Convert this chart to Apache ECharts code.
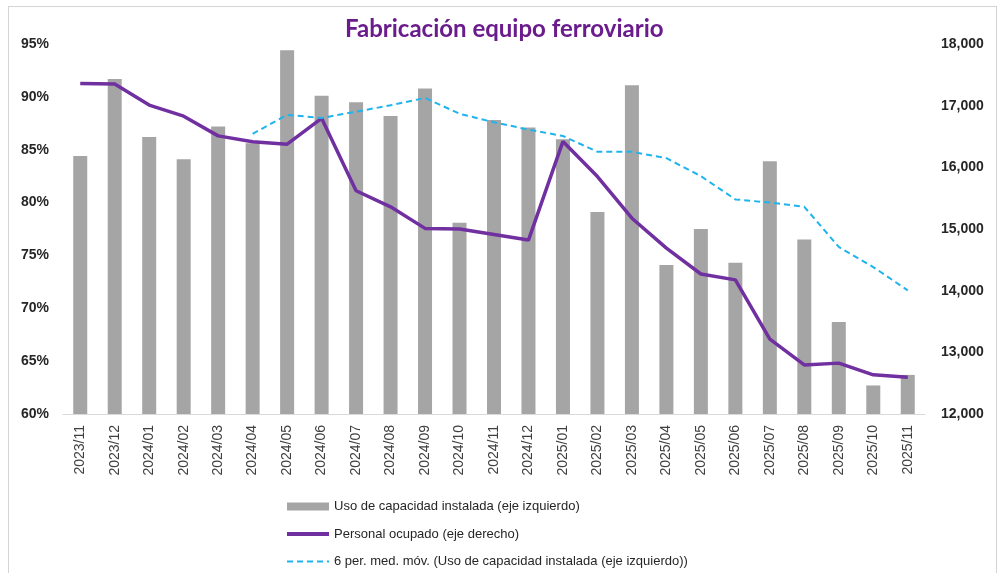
<!doctype html>
<html>
<head>
    <meta charset="utf-8">
    <title>Fabricación equipo ferroviario</title>
    <script type="text/javascript" src="https://cdn.jsdelivr.net/npm/echarts@6/dist/echarts.min.js"></script>
    <style>
        html, body { margin: 0; padding: 0; background: #fff; }
        #frame { position: absolute; left: 8px; top: 6px; width: 989px; height: 570px; border: 1.5px solid #d4d4d4; border-bottom: none; box-sizing: border-box; }
        #container { width: 999px; height: 573px; }
    </style>
</head>
<body>
<div id="frame"></div>
<div id="container"></div>
<script type="text/javascript">
    // meses
    var meses = ['2023/11', '2023/12', '2024/01', '2024/02', '2024/03', '2024/04', '2024/05', '2024/06',
        '2024/07', '2024/08', '2024/09', '2024/10', '2024/11', '2024/12', '2025/01', '2025/02', '2025/03',
        '2025/04', '2025/05', '2025/06', '2025/07', '2025/08', '2025/09', '2025/10', '2025/11'];

    // uso de capacidad instalada (%), eje izquierdo
    var usoCapacidad = [84.4, 91.7, 86.2, 84.1, 87.2, 85.6, 94.4, 90.1, 89.5, 88.2, 90.8, 78.1, 87.8,
        87.1, 86.0, 79.1, 91.1, 74.1, 77.5, 74.3, 83.9, 76.5, 68.7, 62.7, 63.7];

    // personal ocupado, eje derecho
    var personal = [17360, 17350, 17010, 16830, 16510, 16415, 16375, 16795, 15620, 15360, 15010, 15000,
        14910, 14820, 16420, 15850, 15175, 14690, 14270, 14175, 13215, 12795, 12825, 12635, 12595];

    // media movil 6 periodos (empieza en 2024/04)
    var mediaMovil = ['-', '-', '-', '-', '-', 86.5, 88.3, 88.0, 88.6, 89.2, 89.9, 88.4, 87.6,
        86.9, 86.3, 84.8, 84.8, 84.2, 82.5, 80.3, 80.0, 79.6, 75.8, 73.9, 71.7];

    var nombres = ['Uso de capacidad instalada (eje izquierdo)', 'Personal ocupado (eje derecho)',
        '6 per. med. móv. (Uso de capacidad instalada (eje izquierdo))'];

    var myChart = echarts.init(document.getElementById('container'));

    var option = {
        animation: false,
        title: {
            text: 'Fabricación equipo ferroviario',
            left: 340,
            top: 12,
            textStyle: { color: '#6a1b8c', fontFamily: 'Lato', fontWeight: 'bold', fontSize: 24 }
        },
        legend: {
            orient: 'vertical',
            left: 285,
            top: 500,
            height: 80,
            padding: 0,
            itemWidth: 42,
            itemHeight: 8,
            itemGap: 14.5,
            data: [
                { name: nombres[0], icon: 'rect' },
                { name: nombres[1], itemStyle: { opacity: 0 }, lineStyle: { width: 4 } },
                { name: nombres[2], itemStyle: { opacity: 0 } }
            ],
            textStyle: { color: '#262626', fontFamily: 'Liberation Sans', fontSize: 13 }
        },
        grid: { left: 63, right: 74, top: 44, bottom: 159 },
        xAxis: {
            type: 'category',
            data: meses,
            axisTick: { show: false },
            axisLine: { lineStyle: { color: '#d9d9d9', width: 1 } },
            axisLabel: { rotate: 90, margin: 11, color: '#404040', fontFamily: 'Liberation Sans', fontSize: 14 }
        },
        yAxis: [
            {
                type: 'value', min: 60, max: 95, interval: 5,
                splitLine: { show: false },
                axisLabel: {
                    margin: 14, color: '#262626', fontFamily: 'Liberation Sans', fontWeight: 'bold', fontSize: 14,
                    formatter: '{value}%'
                }
            },
            {
                type: 'value', min: 12000, max: 18000, interval: 1000,
                splitLine: { show: false },
                axisLabel: {
                    margin: 16, color: '#262626', fontFamily: 'Liberation Sans', fontWeight: 'bold', fontSize: 14,
                    formatter: function (v) { return v.toLocaleString('en-US'); }
                }
            }
        ],
        series: [
            {
                name: nombres[0],
                type: 'bar',
                barWidth: 14,
                itemStyle: { color: '#a5a5a5' },
                data: usoCapacidad
            },
            {
                name: nombres[1],
                type: 'line',
                yAxisIndex: 1,
                symbol: 'none',
                lineStyle: { color: '#7030a0', width: 3.5 },
                itemStyle: { color: '#7030a0' },
                data: personal,
                z: 3
            },
            {
                name: nombres[2],
                type: 'line',
                symbol: 'none',
                lineStyle: { color: '#1fb4ee', width: 2, type: [6, 4] },
                itemStyle: { color: '#1fb4ee' },
                data: mediaMovil,
                z: 4
            }
        ]
    };

    myChart.setOption(option, true);
</script>
</body>
</html>
